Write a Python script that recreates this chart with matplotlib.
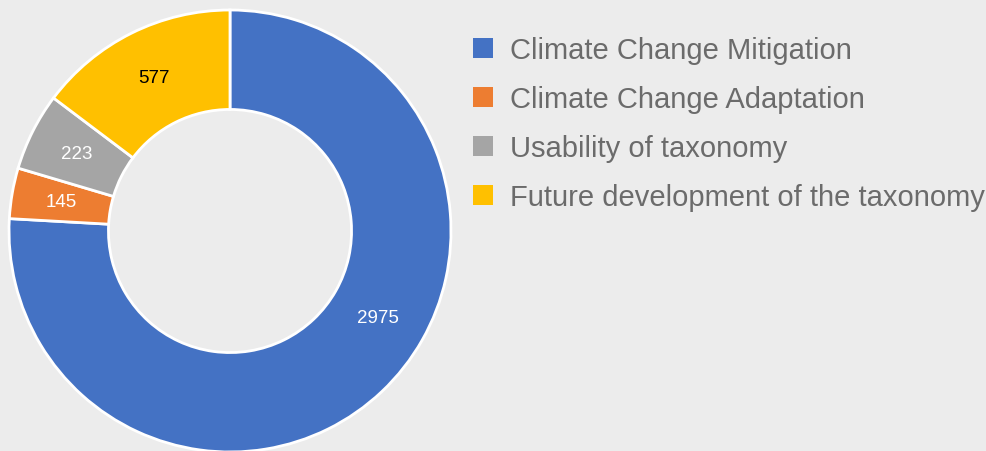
import matplotlib.pyplot as plt
from matplotlib.patches import Patch
import numpy as np

plt.rcParams['font.family'] = ['Liberation Sans', 'DejaVu Sans']

# data
categories = ['Climate Change Mitigation', 'Climate Change Adaptation',
              'Usability of taxonomy', 'Future development of the taxonomy']
values = [2975, 145, 223, 577]
colors = ['#4472c4', '#ed7d31', '#a5a5a5', '#ffc000']
label_colors = ['white', 'white', 'white', 'black']

bg = '#ececec'

fig = plt.figure(figsize=(9.86, 4.52), dpi=100, facecolor=bg)
ax = fig.add_axes([9 / 986, -1 / 452, 442 / 986, 442 / 452])
ax.set_facecolor(bg)

wedges, _ = ax.pie(values, colors=colors, startangle=90, counterclock=False,
                   radius=1.0,
                   wedgeprops=dict(width=0.45, edgecolor='white', linewidth=2))

# data labels in the middle of the ring
r_lab = 1.0 - 0.45 / 2
for i, (w, v) in enumerate(zip(wedges, values)):
    ang = (w.theta1 + w.theta2) / 2
    if i == 0:
        # excel puts the big one a bit further round
        ang = w.theta2 - (w.theta2 - w.theta1) * 0.44
    ax.text(r_lab * np.cos(np.radians(ang)), r_lab * np.sin(np.radians(ang)),
            str(v), ha='center', va='center', fontsize=13.5, color=label_colors[i])

ax.set_xlim(-1, 1)
ax.set_ylim(-1, 1)
ax.set_aspect('equal')
ax.axis('off')

handles = [Patch(facecolor=c, edgecolor='none') for c in colors]
fig.legend(handles, categories, loc='upper left', bbox_to_anchor=(473 / 986, 1 - 37 / 452),
           frameon=False, fontsize=21, labelcolor='#6b6b6b',
           handlelength=0.7, handleheight=0.7, handletextpad=0.58,
           labelspacing=0.72, borderaxespad=0, borderpad=0)

plt.savefig('out.png', dpi=100, facecolor=bg)
